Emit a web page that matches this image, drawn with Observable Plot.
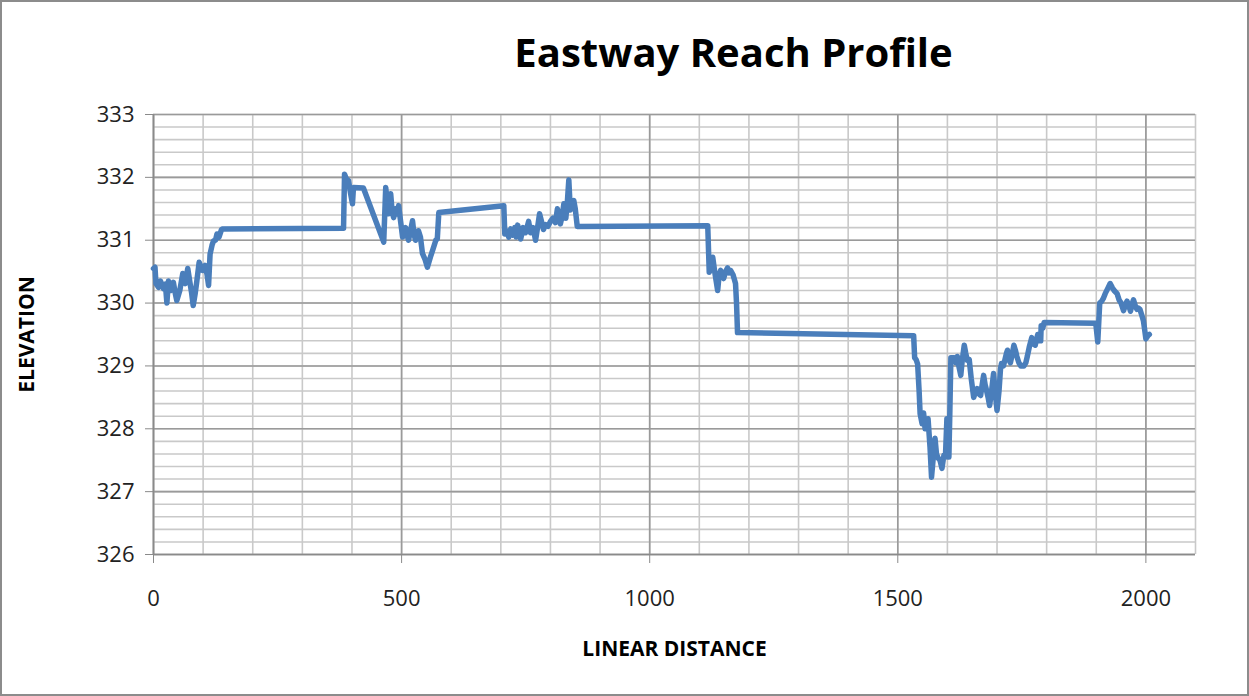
<!DOCTYPE html>
<html>
<head>
<meta charset="utf-8">
<script src="https://cdn.jsdelivr.net/npm/d3@7"></script>
<script src="https://cdn.jsdelivr.net/npm/@observablehq/plot@0.6"></script>
<style>
  html, body { margin: 0; padding: 0; background: #fff; }
  #wrap { position: relative; width: 1249px; height: 696px; overflow: hidden; }
  #wrap::after { content: ""; position: absolute; left: 0; top: 0; width: 1245px; height: 692px; border: 2px solid #8c8c8c; pointer-events: none; }
  svg { display: block; }
</style>
</head>
<body>
<div id="wrap"></div>
<script>
const distance = [0,3,5,10,14,20,24,27,30,35,40,44,47,53,59,64,69,73,77,80,84,87,92,99,104,108,111,114,118,121,125,128,132,137,140,
383,385,389,393,397,401,403,423,464,468,471,474,478,481,484,488,491,494,498,502,505,508,511,514,518,522,525,528,531,534,538,542,547,552,555,558,563,569,572,575,
706,708,712,716,720,724,728,731,734,738,740,745,750,756,760,765,770,774,778,782,786,790,795,800,805,810,814,817,820,824,827,831,834,837,840,843,847,850,854,
1117,1120,1124,1127,1131,1134,1137,1140,1143,1146,1149,1153,1157,1160,1163,1168,1173,1175,1177,
1532,1534,1537,1540,1543,1545,1549,1552,1555,1558,1561,1565,1568,1571,1575,1578,1581,1585,1589,1593,1596,1599,1603,1605,1607,1614,1617,1620,1623,1627,1630,1634,1637,1640,1644,1648,1653,1657,1660,1664,1667,1670,1673,1676,1678,1682,1685,1689,1693,1696,1700,1704,1707,1709,1713,1716,1719,1721,1724,1727,1731,1734,1737,1740,1744,1748,1754,1758,1761,1765,1770,1773,1777,1782,1785,1788,1789,1792,1795,
1899,1903,1907,1911,1914,1918,1923,1928,1932,1936,1942,1946,1950,1955,1959,1962,1966,1969,1972,1975,1979,1982,1985,1988,1992,1995,1998,2000,2004,2007];

const elevation = [330.55,330.57,330.31,330.25,330.35,330.23,330.3,330.0,330.35,330.2,330.33,330.15,330.04,330.2,330.47,330.31,330.55,330.35,330.15,329.96,330.15,330.33,330.65,330.52,330.6,330.45,330.28,330.78,330.92,330.99,331.0,331.1,331.05,331.17,331.18,
331.19,332.05,331.97,331.95,331.75,331.58,331.84,331.83,330.97,331.84,331.6,331.42,331.74,331.45,331.36,331.5,331.42,331.55,331.3,331.05,331.15,331.2,331.08,331.0,331.15,331.31,331.1,331.0,331.05,331.15,331.05,330.79,330.7,330.57,330.65,330.73,330.85,331.0,331.02,331.44,
331.55,331.1,331.15,331.05,331.18,331.08,331.2,331.05,331.24,331.1,331.02,331.2,331.12,331.3,331.12,331.2,331.0,331.2,331.42,331.3,331.17,331.25,331.22,331.3,331.35,331.28,331.5,331.4,331.26,331.4,331.58,331.35,331.6,331.96,331.48,331.55,331.63,331.5,331.22,
331.23,330.49,330.6,330.73,330.5,330.35,330.2,330.45,330.52,330.45,330.39,330.5,330.56,330.48,330.52,330.45,330.31,330.0,329.53,
329.48,329.13,329.1,329.03,328.6,328.24,328.08,328.25,328.0,328.05,328.16,327.7,327.23,327.5,327.85,327.6,327.54,327.5,327.37,327.58,327.55,328.16,327.55,328.3,329.13,329.13,329.05,329.15,329.0,328.85,329.1,329.33,329.2,329.09,329.1,328.8,328.5,328.6,328.64,328.55,328.53,328.7,328.85,328.7,328.64,328.5,328.37,328.6,328.88,328.6,328.29,328.6,328.95,329.04,329.0,329.1,329.2,329.25,329.1,329.05,329.2,329.33,329.25,329.15,329.05,329.0,329.0,329.05,329.15,329.3,329.45,329.35,329.33,329.5,329.4,329.4,329.64,329.6,329.69,
329.68,329.38,330.0,330.03,330.07,330.15,330.23,330.31,330.25,330.2,330.15,330.05,330.0,329.88,329.98,330.03,329.95,329.87,329.98,330.05,329.95,329.9,329.92,329.9,329.8,329.72,329.55,329.43,329.48,329.5];

const xTicks = [0, 500, 1000, 1500, 2000];
const yTicks = [326, 327, 328, 329, 330, 331, 332, 333];
const xMinor = d3.range(0, 2101, 100);
const yMinor = d3.range(0, 36).map(i => 326 + i * 0.2);

const titleText = "Eastway Reach Profile";
const xTitle = "LINEAR DISTANCE";
const yTitle = "ELEVATION";

const data = distance.map((d, i) => ({distance: d, elevation: elevation[i]}));

const font = "'Open Sans', sans-serif";

const chart = Plot.plot({
  width: 1249,
  height: 696,
  marginTop: 114,
  marginBottom: 142,
  marginLeft: 153,
  marginRight: 54,
  style: { fontFamily: font, background: "transparent", overflow: "visible" },
  x: { domain: [0, 2100], axis: null },
  y: { domain: [326, 333], axis: null },
  marks: [
    Plot.ruleX(xMinor, { stroke: "#c9c9c9", strokeWidth: 1.6 }),
    Plot.ruleY(yMinor, { stroke: "#c9c9c9", strokeWidth: 1.6 }),
    Plot.ruleX(xTicks, { stroke: "#9a9a9a", strokeWidth: 1.6 }),
    Plot.ruleY(yTicks, { stroke: "#9a9a9a", strokeWidth: 1.6 }),
    Plot.ruleX([0], { stroke: "#8a8a8a", strokeWidth: 1.6 }),
    Plot.ruleY([326], { stroke: "#8a8a8a", strokeWidth: 1.6 }),
    Plot.axisY(yTicks, { tickSize: 8, tickPadding: 11, fontSize: 22, stroke: "#8a8a8a", color: "#222", label: null, tickFormat: d => String(d) }),
    Plot.axisX(xTicks, { tickSize: 9, tickPadding: 27, fontSize: 22, stroke: "#8a8a8a", color: "#222", label: null, tickFormat: d => String(d) }),
    Plot.line(data, { x: "distance", y: "elevation", stroke: "#4a7ebb", strokeWidth: 5.5, strokeLinejoin: "round", strokeLinecap: "round" }),
    Plot.text([titleText], { frameAnchor: "top", dx: 59, dy: -60, text: d => d, fontSize: 40, fontWeight: "bold", fill: "#000", lineAnchor: "middle" }),
    Plot.text([xTitle], { frameAnchor: "bottom", dy: 95, text: d => d, fontSize: 21, fontWeight: "bold", fill: "#000", lineAnchor: "middle" }),
    Plot.text([yTitle], { frameAnchor: "left", dx: -126, text: d => d, fontSize: 21, fontWeight: "bold", fill: "#000", rotate: -90, textAnchor: "middle", lineAnchor: "middle" })
  ]
});
document.getElementById("wrap").appendChild(chart);
</script>
</body>
</html>
